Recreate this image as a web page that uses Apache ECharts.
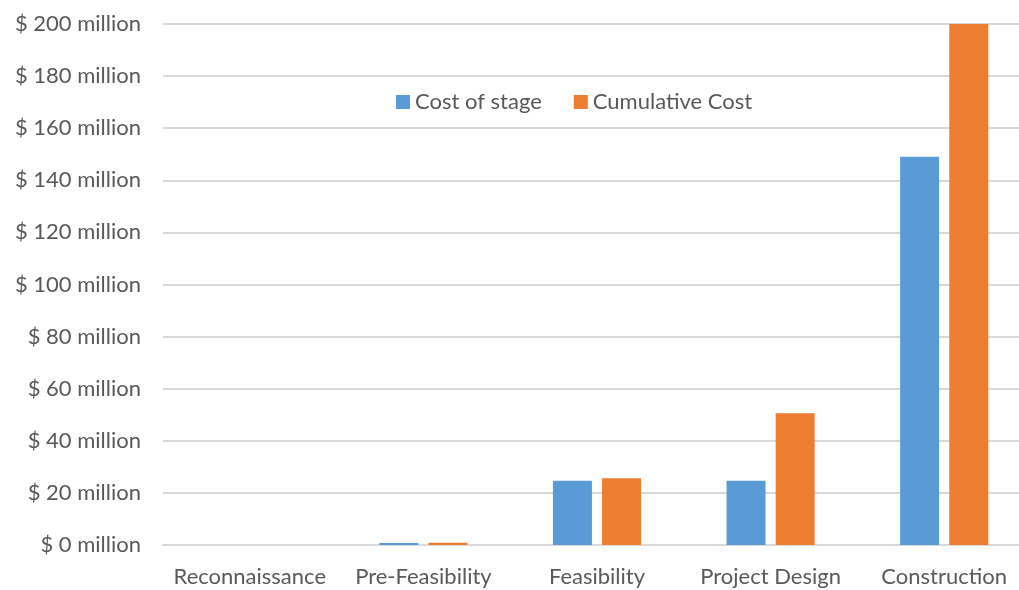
<!DOCTYPE html>
<html><head><meta charset="utf-8">
<script src="https://cdn.jsdelivr.net/npm/echarts@6/dist/echarts.min.js"></script>
<style>html,body{margin:0;padding:0;background:#fff}#c{width:1019px;height:590px}</style>
</head><body><div id="c"></div>
<script>
const categories = ["Reconnaissance", "Pre-Feasibility", "Feasibility", "Project Design", "Construction"];
const costOfStage = [0, 0.8, 24.7, 24.7, 149];
const cumulativeCost = [0, 0.9, 25.6, 50.6, 200];
const seriesNames = ["Cost of stage", "Cumulative Cost"];
const font = "Lato, 'Open Sans', sans-serif";
const chart = echarts.init(document.getElementById('c'));
chart.setOption({
  animation: false,
  grid: { left: 163, width: 868, top: 24, bottom: 45, containLabel: false, outerBoundsMode: 'none' },
  legend: {
    top: 86, left: 391, itemWidth: 14, itemHeight: 14, itemGap: 32, icon: 'rect',
    textStyle: { fontFamily: font, fontSize: 22, color: '#595959' },
    data: seriesNames
  },
  xAxis: {
    type: 'category', data: categories,
    axisLine: { lineStyle: { color: '#d9d9d9', width: 2 } },
    axisTick: { show: false },
    axisLabel: { fontFamily: font, fontSize: 22, color: '#595959', margin: 21, interval: 0 }
  },
  yAxis: {
    type: 'value', min: 0, max: 200, interval: 20,
    axisLine: { show: false }, axisTick: { show: false },
    splitLine: { lineStyle: { color: '#d9d9d9', width: 2 } },
    axisLabel: { fontFamily: font, fontSize: 22, color: '#595959', margin: 22,
      formatter: v => '$ ' + v + ' million' }
  },
  series: [
    { name: seriesNames[0], type: 'bar', data: costOfStage, barWidth: 39, barGap: '26%',
      itemStyle: { color: '#5B9BD5' } },
    { name: seriesNames[1], type: 'bar', data: cumulativeCost, barWidth: 39,
      itemStyle: { color: '#ED7D31' } }
  ]
});
</script></body></html>
